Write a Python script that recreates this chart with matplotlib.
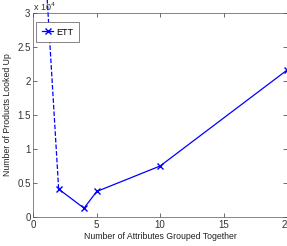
import matplotlib
matplotlib.use('Agg')
import matplotlib.pyplot as plt
from matplotlib.ticker import FuncFormatter

# data (y in raw units, axis shows x 10^4)
attrs_dash=[1,2]
lookups_dash=[35000,4100]
attrs=[2,4,5,10,20]
lookups=[4100,1300,3750,7500,21600]
xticks=[0,5,10,15,20]
yticks=[0,5000,10000,15000,20000,25000,30000]

plt.rcParams['font.family']=['Liberation Sans','DejaVu Sans']
fig=plt.figure(figsize=(2.87,2.46),dpi=100)
ax=fig.add_axes([0.116,0.118,0.884,0.829])

ax.plot(attrs_dash,lookups_dash,color='b',linestyle='--',linewidth=0.9,clip_on=False)
ax.plot(attrs,lookups,color='b',marker='x',markersize=4.5,linewidth=0.9,label='ETT',clip_on=False)

ax.set_xlim(0,20)
ax.set_ylim(0,30000)
ax.set_xticks(xticks)
ax.set_yticks(yticks)
ax.yaxis.set_major_formatter(FuncFormatter(lambda v,p: ('%g'%(v/1e4))))
ax.tick_params(direction='in',top=True,right=True,labelsize=7,length=3,width=0.5,colors='#333333',pad=2)
for s in ax.spines.values():
    s.set_linewidth(0.5)
    s.set_color('#555555')

ax.text(0.0,1.0,r'x 10$^4$',transform=ax.transAxes,fontsize=6.5,color='#333333',ha='left',va='bottom')
ax.set_xlabel('Number of Attributes Grouped Together',fontsize=6.3,labelpad=1.5,color='#222222')
ax.set_ylabel('Number of Products Looked Up',fontsize=6.3,labelpad=4,color='#222222')

leg=ax.legend(loc='upper left',fontsize=6.5,fancybox=False,framealpha=1,edgecolor='#555555',
              handlelength=1.3,handletextpad=0.3,borderpad=0.6,borderaxespad=0,
              bbox_to_anchor=(0.012,0.955))
leg.get_frame().set_linewidth(0.5)

fig.savefig('out.png',dpi=100)
